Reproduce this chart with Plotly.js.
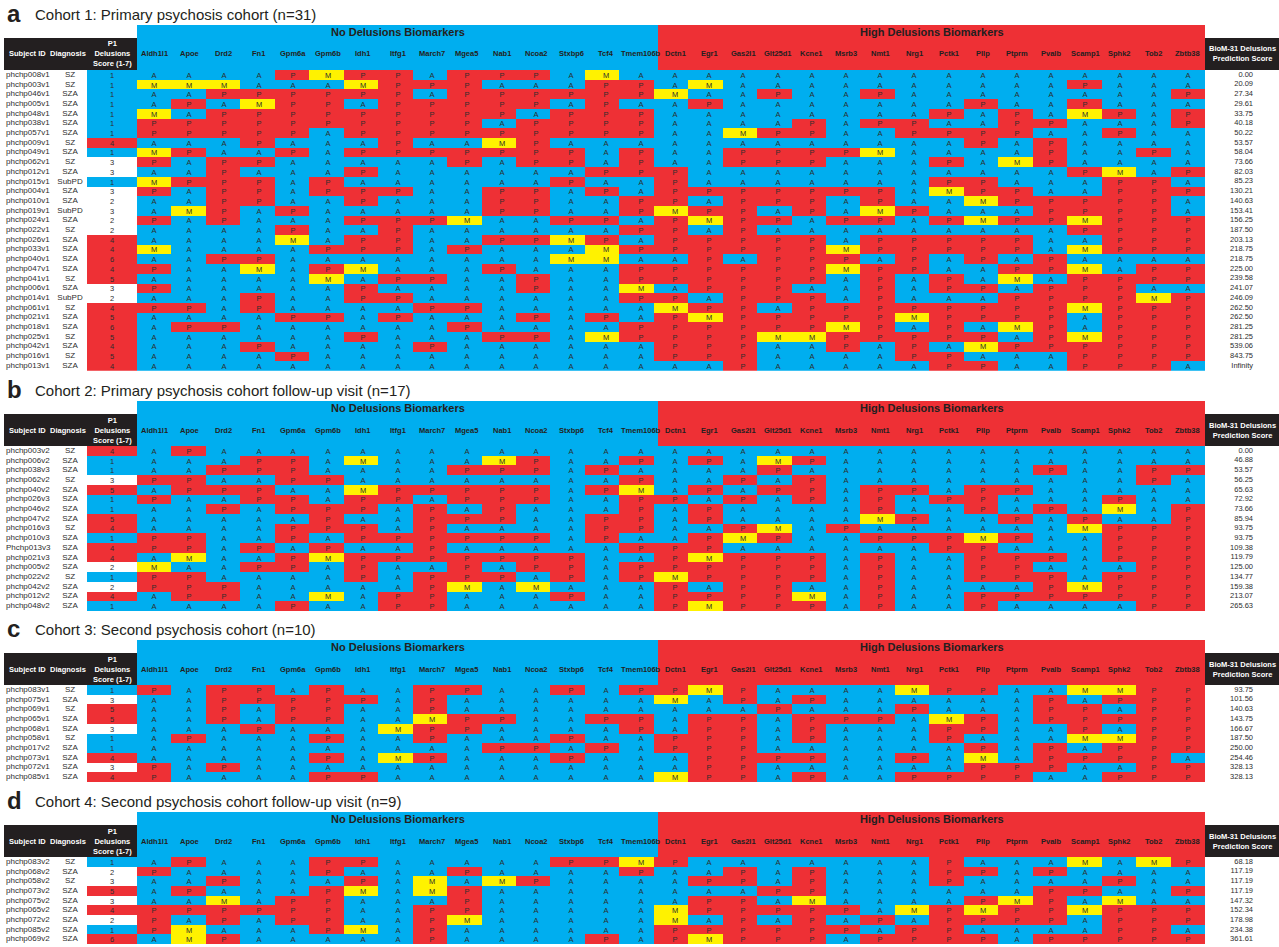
<!DOCTYPE html>
<html><head><meta charset="utf-8">
<script src="https://cdn.plot.ly/plotly-3.0.1.min.js"></script>
<style>html,body{margin:0;padding:0;background:#fff}</style>
</head><body><div id="chart" style="width:1279px;height:947px"></div>
<script>
// ---------------- DATA ----------------
const noDelGenes = ["Aldh1l1","Apoe","Drd2","Fn1","Gpm6a","Gpm6b","Idh1","Itfg1","March7","Mgea5","Nab1","Ncoa2","Stxbp6","Tcf4","Tmem106b"];
const highDelGenes = ["Dctn1","Egr1","Gas2l1","Glt25d1","Kcne1","Msrb3","Nmt1","Nrg1","Pctk1","Pllp","Ptprm","Pvalb","Scamp1","Sphk2","Tob2","Zbtb38"];

const c1Title = "Cohort 1: Primary psychosis cohort (n=31)";
const c1Ids = ["phchp008v1","phchp003v1","phchp046v1","phchp005v1","phchp048v1","phchp038v1","phchp057v1","phchp009v1","phchp049v1","phchp062v1","phchp012v1","phchp015v1","phchp004v1","phchp010v1","phchp019v1","phchp024v1","phchp022v1","phchp026v1","phchp033v1","phchp040v1","phchp047v1","phchp041v1","phchp006v1","phchp014v1","phchp061v1","phchp021v1","phchp018v1","phchp025v1","phchp042v1","phchp016v1","phchp013v1"];
const c1Diag = ["SZ","SZ","SZA","SZA","SZA","SZA","SZA","SZ","SZA","SZ","SZA","SubPD","SZA","SZA","SubPD","SZA","SZ","SZA","SZA","SZA","SZA","SZ","SZA","SubPD","SZ","SZA","SZA","SZ","SZA","SZ","SZA"];
const c1P1 = [1,1,1,1,1,1,1,4,1,3,3,1,3,2,3,2,2,4,4,6,4,5,3,2,4,5,6,5,4,5,4];
const c1Score = ["0.00","20.09","27.34","29.61","33.75","40.18","50.22","53.57","58.04","73.66","82.03","85.23","130.21","140.63","153.41","156.25","187.50","203.13","218.75","218.75","225.00","239.58","241.07","246.09","262.50","262.50","281.25","281.25","539.06","843.75","Infinity"];
const c1Calls = [
"AAAAPMPPAPPPAMA|AAAAAAAAAAAAAAAA",
"MMMAAAMPPPAAAPP|AMAAAAAAAAAAPAAA",
"AAPPPPPPAPPPPPP|MAAPAAPAAAAAAAAP",
"APAMPPAPPPPPAPA|APAAAAAAAPAAPAAA",
"MAPPPPPPPPPAPPP|AAAAAAAAPAPAMPAP",
"PPPPPPPPPPAPPPP|AAAAPAPPAAPPAAAP",
"PPPPPAPPPPPPPPP|AAMPPAAPPPPAAPAA",
"AAAPAAAPAAMPAAA|AAAAAAAAAPAPAAAA",
"MPAAPAPPPPPPPAP|AAPPPPMAAAAPAAPA",
"PAPPAAAAAPAPPAP|AAPPPAAAPAMPAAAA",
"AAPAAAPAAAAAAPP|PAAAAAAAAAAAPMAP",
"MPPPAPAAAAAAPAA|PAAAAAAAPPAAAPPA",
"PAPPAPPPAAPPAPA|PPPPPPPAMPPAAPPP",
"AAPPAAPAAAPPAAP|PAPPPAPAAMPPPPPA",
"AMPAPAAAAAPPAAP|MPPAPAMPAAAPPPPA",
"PAPAAAPPPMAAPPA|PMPPAPPAPMPPMPPP",
"AAAAPAAPAAAAAAP|PAPAAAAAAAAAPPPP",
"AAAAMAPPAAPPMPA|PPPPPAPPPPPAAPPP",
"MAAAAPPPAPAAAMP|PPPPPMPPPPPAMPPP",
"AAPPAAAAAAAAMMA|APAPPPAPAPAPAAAA",
"PAAMAPMAAAPAAAP|PPPPPMPPAAPPMAPP",
"AAAAAMAPPAAPAAP|PPPPPAPAPAMAPPPP",
"PAAAAAPAAAAPAAM|APPPAAPAPPAPPPAA",
"AAAPAAPPAAAAAAP|PAPPPAPAAAPPPPMP",
"PPAPAAAAPPAAAAA|MPPAPPPPPPPPMPPP",
"AAAAPPAPAAAPAPA|PMPPPPPMPPPPAPPP",
"APPAAAAAAPAAAAP|PPPPPMPAPAMPAPPP",
"AAAAAAPAAAPPAMP|PPPMMPPPPPAPMPPP",
"AAAPAAAAPAAAAAA|PPPAAPAPAMPPPPPP",
"AAAAPAAAAAAAAAA|PPPAAAAPPAAAPPPP",
"AAAAAAAAAAAAAAA|AAPAAAAAPPAAPPPA"];

const c2Title = "Cohort 2: Primary psychosis cohort follow-up visit (n=17)";
const c2Ids = ["phchp003v2","phchp006v2","phchp038v3","phchp062v2","phchp040v2","phchp026v3","phchp046v2","phchp047v2","phchp016v3","phchp010v3","Phchp013v3","phchp021v3","phchp005v2","phchp022v2","phchp042v2","phchp012v2","phchp048v2"];
const c2Diag = ["SZ","SZA","SZA","SZ","SZA","SZA","SZA","SZA","SZ","SZA","SZA","SZA","SZA","SZ","SZA","SZA","SZA"];
const c2P1 = [4,1,1,3,5,1,1,5,4,1,4,4,2,1,2,4,1];
const c2Score = ["0.00","46.88","53.57","56.25","65.63","72.92","73.66","85.94","93.75","93.75","109.38","119.79","125.00","134.77","159.38","213.07","265.63"];
const c2Calls = [
"APAAAAAAAAAAAAA|AAAAAAAAAAAAAAAA",
"AAAPPAMAAAMPAAP|APAMPAAAAAAAAAAA",
"AAPPPAAAAPPPAPA|AAAPAAAAAAAPAAPP",
"PPAAPPAAAAAAAAP|AAPAPAAAAAAAAAPA",
"APPPAAMPPPPPAPM|APAPPAPPAPPAAAAA",
"PAAPPAPPAPPPAAP|PAPAPAPAPPAAAPAA",
"AAPAPPPAPAPAAAP|APAAAAPAAPAPAMAP",
"AAAAAPAAPPPAAPP|APAAAAMPAAPAPAAP",
"AAAAPPPAPAAAAPP|AAPMAPAAAAAAMPPP",
"PPAAPAPPPPPPAPA|APMPAAPPPMPAAPPP",
"PPAPAPAAPAAAAAP|PPAAAAAAPPAAAPPP",
"AMAAPMPPPPPPPAA|PMPPPAPAAPPPAPPP",
"MAAPPAPAAPAPPAP|PPPPPAPAAPPAAAPP",
"PPAAAAPAPPPAPAP|MPPPPAPAAPPPAPPP",
"PPPAAAAAPMAMAAA|PAPPAAPAAAAPMPPP",
"APPAAMAPPAAAPAA|PPPPMAPAAPPPPPPP",
"AAAAPAAPPAAAAAA|PMPPPAPAAPAAAAPP"];

const c3Title = "Cohort 3: Second psychosis cohort (n=10)";
const c3Ids = ["phchp083v1","phchp075v1","phchp069v1","phchp065v1","phchp068v1","phchp058v1","phchp017v2","phchp073v1","phchp072v1","phchp085v1"];
const c3Diag = ["SZ","SZA","SZ","SZA","SZA","SZ","SZA","SZA","SZA","SZA"];
const c3P1 = [1,3,5,5,3,1,1,4,3,4];
const c3Score = ["93.75","101.56","140.63","143.75","166.67","187.50","250.00","254.46","328.13","328.13"];
const c3Calls = [
"PAPPAPAAPPAAPAP|PMPAAAAMPPAAMMPP",
"AAPPPPPAPAAAAAA|MAPAPAAAAAAPAPPP",
"AAPAPPAAPAAAAAA|AAAPAAAPAAAPPAPP",
"AAPAPPAAMPPAAPP|APPAPPPAMPAPPPPP",
"AAAPAAAMPPAAAAP|APPAPAAAPPAAPAPP",
"APAAAPAAPAAAPAA|PPPAPAAAPAAAMMPP",
"AAAAAAAAAAPPAPA|PPPAAAAAAPAPAPPP",
"AAAAAPAMPAAAPAA|APPPPAAPAMAPPPPA",
"PAPAAAAAAAAAAAA|APPAAAAAAPPPAAPP",
"PAAAAPPAAAAAAAA|MPPAPAAPPPPAAPPP"];

const c4Title = "Cohort 4: Second psychosis cohort follow-up visit (n=9)";
const c4Ids = ["phchp083v2","phchp068v2","phchp058v2","phchp073v2","phchp075v2","phchp065v2","phchp072v2","phchp085v2","phchp069v2"];
const c4Diag = ["SZ","SZA","SZ","SZA","SZA","SZA","SZA","SZA","SZA"];
const c4P1 = [1,2,3,5,3,4,2,1,6];
const c4Score = ["68.18","117.19","117.19","117.19","147.32","152.34","178.98","234.38","361.61"];
const c4Calls = [
"APAAAPPAAAAAPPM|PAAAAAAAPAAAMAMP",
"PAAAAPAAAPAAAAP|AAPAPAAAPPAPAAAA",
"AAPAAAPAMAMPAAA|APPAPAAAPAAAAPAA",
"APAAAPMAMPAAAAA|AAAPPAAAAAAPPAAP",
"AAMAPPAAAPAAAAA|APPAMAAAAPMPAMAA",
"PPPPPPAAPPAAAAA|MPPPPPAMPMPPMPPP",
"PAPAPPAAPMAAAAA|MAPAPAPAPPPPAPPP",
"PMAAAPMAPAAAAAA|PPPPPPAPPAAAAPPA",
"AMPAAAAAPAAAAPA|PMPPPAPPPPAPPPPP"];

// ---------------- LAYOUT CONSTANTS ----------------
const W = 1279, H = 947, RH = 9.7;
const BLUE = "#00AEEF", RED = "#EE3035", YEL = "#FFF200", BLK = "#231F20", TXT = "#2d2d2d";
const FONT = "Liberation Sans Narrow, Arial Narrow, Liberation Sans, Arial, sans-serif";
const FONTR = "Liberation Sans, Arial, sans-serif";
const xSubj = 6, xDiag = 70, p1L = 87, p1R = 137, gL = 137, gM = 658, gR = 1205, xScore = 1253, xScoreHdr = 1242;
const genes = noDelGenes.concat(highDelGenes);
const gEdges = [];
for (let i = 0; i <= noDelGenes.length; i++) gEdges.push(gL + i * (gM - gL) / noDelGenes.length);
for (let i = 1; i <= highDelGenes.length; i++) gEdges.push(gM + i * (gR - gM) / highDelGenes.length);
const gCenters = genes.map((g, i) => (gEdges[i] + gEdges[i + 1]) / 2);

const cohorts = [
  {letter: "a", title: c1Title, ids: c1Ids, diag: c1Diag, p1: c1P1, score: c1Score, calls: c1Calls, top: 70},
  {letter: "b", title: c2Title, ids: c2Ids, diag: c2Diag, p1: c2P1, score: c2Score, calls: c2Calls, top: 446},
  {letter: "c", title: c3Title, ids: c3Ids, diag: c3Diag, p1: c3P1, score: c3Score, calls: c3Calls, top: 685},
  {letter: "d", title: c4Title, ids: c4Ids, diag: c4Diag, p1: c4P1, score: c4Score, calls: c4Calls, top: 857}
];

const py = p => 1 - p / H;
const callCode = {A: 0, M: 1, P: 2};
const geneScale = [[0, BLUE], [0.25, BLUE], [0.25, YEL], [0.75, YEL], [0.75, RED], [1, RED]];
const p1Scale = [[0, BLUE], [0.25, BLUE], [0.25, "#FFFFFF"], [0.75, "#FFFFFF"], [0.75, RED], [1, RED]];

const traces = [], shapes = [], annotations = [];
const layout = {
  width: W, height: H, margin: {l: 0, r: 0, t: 0, b: 0},
  paper_bgcolor: "#fff", plot_bgcolor: "rgba(0,0,0,0)", showlegend: false, hovermode: false,
  xaxis: {range: [0, W], domain: [0, 1], visible: false, fixedrange: true},
  shapes: shapes, annotations: annotations
};

cohorts.forEach((c, k) => {
  const n = c.ids.length;
  const yname = k === 0 ? "y" : "y" + (k + 1);
  const ykey = k === 0 ? "yaxis" : "yaxis" + (k + 1);
  layout[ykey] = {domain: [py(c.top + n * RH), py(c.top)], range: [n - 0.5, -0.5], visible: false, fixedrange: true, anchor: "x"};
  const rows = c.ids.map((_, i) => i);
  const letters = c.calls.map(s => s.replace("|", "").split(""));
  const z = letters.map(r => r.map(ch => callCode[ch]));

  traces.push({type: "heatmap", x: gEdges, y: rows, z: z, text: letters, texttemplate: "%{text}",
    textfont: {size: 7.5, color: TXT, family: FONTR}, colorscale: geneScale, zmin: 0, zmax: 2,
    showscale: false, hoverinfo: "skip", xaxis: "x", yaxis: yname});
  traces.push({type: "heatmap", x: [p1L, p1R], y: rows, z: c.p1.map(v => [v <= 1 ? 0 : (v <= 3 ? 1 : 2)]),
    text: c.p1.map(v => [String(v)]), texttemplate: "%{text}", textfont: {size: 7.5, color: TXT, family: FONTR},
    colorscale: p1Scale, zmin: 0, zmax: 2, showscale: false, hoverinfo: "skip", xaxis: "x", yaxis: yname});
  traces.push({type: "scatter", mode: "text", x: rows.map(() => xSubj), y: rows, text: c.ids,
    textposition: "middle right", textfont: {size: 8, color: TXT, family: FONTR}, hoverinfo: "skip", xaxis: "x", yaxis: yname});
  traces.push({type: "scatter", mode: "text", x: rows.map(() => xDiag), y: rows, text: c.diag,
    textposition: "middle center", textfont: {size: 8, color: TXT, family: FONTR}, hoverinfo: "skip", xaxis: "x", yaxis: yname});
  traces.push({type: "scatter", mode: "text", x: rows.map(() => xScore), y: rows, text: c.score,
    textposition: "middle left", textfont: {size: 7.5, color: TXT, family: FONTR}, hoverinfo: "skip", xaxis: "x", yaxis: yname});

  // header blocks
  const t = c.top;
  shapes.push({type: "rect", xref: "x", yref: "paper", x0: gL, x1: gM, y0: py(t), y1: py(t - 45), fillcolor: BLUE, line: {width: 0}, layer: "below"});
  shapes.push({type: "rect", xref: "x", yref: "paper", x0: gM, x1: gR, y0: py(t), y1: py(t - 45), fillcolor: RED, line: {width: 0}, layer: "below"});
  shapes.push({type: "rect", xref: "x", yref: "paper", x0: 4, x1: p1R, y0: py(t), y1: py(t - 32), fillcolor: BLK, line: {width: 0}, layer: "below"});
  shapes.push({type: "rect", xref: "x", yref: "paper", x0: gR, x1: W, y0: py(t), y1: py(t - 32), fillcolor: BLK, line: {width: 0}, layer: "below"});

  const ann = (text, x, y, o) => annotations.push(Object.assign({text: text, x: x, y: py(y), xref: "x", yref: "paper",
    showarrow: false, xanchor: "center", yanchor: "middle", font: {size: 8, color: BLK, family: FONTR}}, o || {}));
  ann("<b>" + c.letter + "</b>", 5, t - 57, {xanchor: "left", font: {size: 24, color: BLK, family: FONTR}});
  ann(c.title, 33, t - 56, {xanchor: "left", font: {size: 15, color: BLK, family: FONT}});
  ann("<b>No Delusions Biomarkers</b>", (gL + gM) / 2, t - 38, {font: {size: 11, color: BLK, family: FONTR}});
  ann("<b>High Delusions Biomarkers</b>", (gM + gR) / 2, t - 38, {font: {size: 11, color: BLK, family: FONTR}});
  genes.forEach((g, i) => ann("<b>" + g + "</b>", gCenters[i], t - 16, {font: {size: 7.5, color: BLK, family: FONT}}));
  ann("<b>Subject ID</b>", 27, t - 16, {font: {size: 7.5, color: "#fff", family: FONT}});
  ann("<b>Diagnosis</b>", 68, t - 16, {font: {size: 7.5, color: "#fff", family: FONT}});
  ann("<b>P1<br>Delusions<br>Score (1-7)</b>", 112, t - 16, {font: {size: 7.5, color: "#fff", family: FONT}});
  ann("<b>BioM-31 Delusions<br>Prediction Score</b>", xScoreHdr, t - 16, {font: {size: 7.5, color: "#fff", family: FONT}});
});

Plotly.newPlot("chart", traces, layout, {staticPlot: true, displayModeBar: false});
</script></body></html>
